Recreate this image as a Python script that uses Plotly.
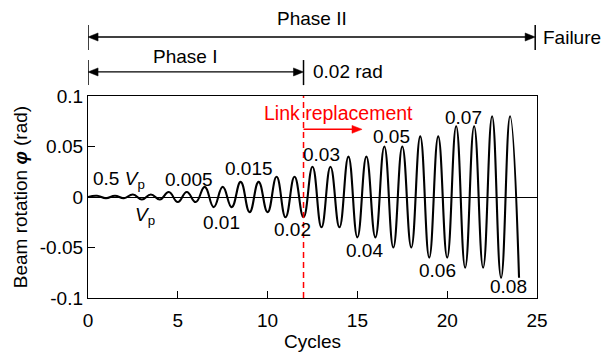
import plotly.graph_objects as go

# Loading protocol: two cycles per step
step_names = ["0.5Vp", "Vp", "0.005", "0.01", "0.015", "0.02",
              "0.03", "0.04", "0.05", "0.06", "0.07", "0.08"]
step_peak = [0.0012, 0.0025, 0.005, 0.01, 0.015, 0.02,
             0.03, 0.04, 0.05, 0.06, 0.07, 0.08]
step_trough = [-0.0012, -0.0025, -0.005, -0.01, -0.015, -0.02,
               -0.03, -0.04, -0.05, -0.06, -0.07, -0.08]
cycles_per_step = 2

x_ticks = [0, 5, 10, 15, 20, 25]
y_ticks = [-0.1, -0.05, 0, 0.05, 0.1]
y_tick_text = ["-0.1", "-0.05", "0", "0.05", "0.1"]

# Peak/trough sequence of the rotation history
t, phi = [0.0], [0.0]
n = 0
for pk, tr in zip(step_peak, step_trough):
    for _ in range(cycles_per_step):
        t += [n + 0.5, n + 1.0]
        phi += [pk, tr]
        n += 1

FONT = "Liberation Sans, Arial, sans-serif"
FS = 19

fig = go.Figure()
fig.add_trace(go.Scatter(
    x=t, y=phi, mode="lines",
    line=dict(color="black", width=2.1, shape="spline", smoothing=1.3),
    hoverinfo="skip", showlegend=False,
))

# Link replacement marker
fig.add_shape(type="line", xref="x", yref="y", x0=12, x1=12, y0=-0.1, y1=0.1,
              line=dict(color="#ff0000", width=1.5, dash="6px,4px"))


def text(txt, x, y, xref="x", yref="y", color="black", size=FS, xanchor="center",
         angle=0):
    fig.add_annotation(x=x, y=y, xref=xref, yref=yref, text=txt, showarrow=False,
                       xanchor=xanchor, yanchor="middle", textangle=angle,
                       font=dict(family=FONT, size=size, color=color))


def head(x_tip, y_tip, direction, yref, color, dx, dy):
    # filled triangular arrowhead; dx along the arrow, dy half-width
    xb = x_tip - direction * dx
    fig.add_shape(type="path", xref="x", yref=yref,
                  path=f"M {x_tip},{y_tip} L {xb},{y_tip + dy} L {xb},{y_tip - dy} Z",
                  fillcolor=color, line=dict(color=color, width=0.5))


def hline(x0, x1, y, yref, color, width):
    fig.add_shape(type="line", xref="x", yref=yref, x0=x0, x1=x1, y0=y, y1=y,
                  line=dict(color=color, width=width))


def bar(xv, yp0, yp1):
    fig.add_shape(type="line", xref="x", yref="paper", x0=xv, x1=xv, y0=yp0, y1=yp1,
                  line=dict(color="black", width=1.5))


# Step labels
labels = [
    ("0.5 <i>V</i><sub>p</sub>", 1.73, 0.0165),
    ("<i>V</i><sub>p</sub>", 3.2, -0.0185),
    ("0.005", 5.6, 0.0176),
    ("0.01", 7.45, -0.0255),
    ("0.015", 8.94, 0.0284),
    ("0.02", 11.4, -0.0323),
    ("0.03", 12.98, 0.042),
    ("0.04", 15.38, -0.0525),
    ("0.05", 16.88, 0.060),
    ("0.06", 19.47, -0.073),
    ("0.07", 20.92, 0.079),
    ("0.08", 23.43, -0.089),
]
for txt, lx, ly in labels:
    text(txt, lx, ly)

text("Link replacement", 13.93, 0.0833, color="#ff0000", size=19.5)
hline(12, 14.8, 0.067, "y", "#ff0000", 1.5)
head(15.26, 0.067, 1, "y", "#ff0000", 0.56, 0.0039)

# Phase arrows above the axes
AH_DX, AH_DY = 0.56, 0.02
hline(0.3, 24.6, 1.292, "paper", "black", 1.3)
head(0, 1.292, -1, "paper", "black", AH_DX, AH_DY)
head(24.9, 1.292, 1, "paper", "black", AH_DX, AH_DY)
bar(0, 1.228, 1.351)
bar(24.9, 1.228, 1.351)

hline(0.3, 11.7, 1.119, "paper", "black", 1.3)
head(0, 1.119, -1, "paper", "black", AH_DX, AH_DY)
head(12, 1.119, 1, "paper", "black", AH_DX, AH_DY)
bar(0, 1.054, 1.178)
bar(12, 1.054, 1.178)

text("Phase II", 12.48, 1.386, yref="paper")
text("Phase I", 5.4, 1.196, yref="paper")
text("Failure", 1.009, 1.292, xref="paper", yref="paper", xanchor="left")
text("0.02 rad", 12.42, 1.119, yref="paper", xanchor="left")

# Y-axis title
text("Beam rotation <b><i>φ</i></b> (rad)", -0.151, 0.5, xref="paper", yref="paper",
     angle=-90)

fig.update_layout(
    width=609, height=354,
    margin=dict(l=88, r=72, t=96, b=56),
    paper_bgcolor="white", plot_bgcolor="white",
    font=dict(family=FONT, size=FS, color="black"),
    xaxis=dict(range=[0, 25], tickvals=x_ticks, ticks="inside", ticklen=7,
               tickwidth=1.3, tickcolor="black", showline=True, linecolor="black",
               linewidth=1.3, mirror=True, showgrid=False, zeroline=False,
               automargin=False, ticklabelstandoff=5,
               title=dict(text="Cycles", standoff=4,
                          font=dict(family=FONT, size=FS, color="black")),
               tickfont=dict(family=FONT, size=FS)),
    yaxis=dict(range=[-0.1, 0.1], tickvals=y_ticks, ticktext=y_tick_text,
               ticks="inside", ticklen=7, tickwidth=1.3, tickcolor="black",
               showline=True, linecolor="black", linewidth=1.3, mirror=True,
               showgrid=False, zeroline=True, zerolinecolor="black",
               automargin=False,
               zerolinewidth=1, tickfont=dict(family=FONT, size=FS)),
)

fig.write_html("out.html")
